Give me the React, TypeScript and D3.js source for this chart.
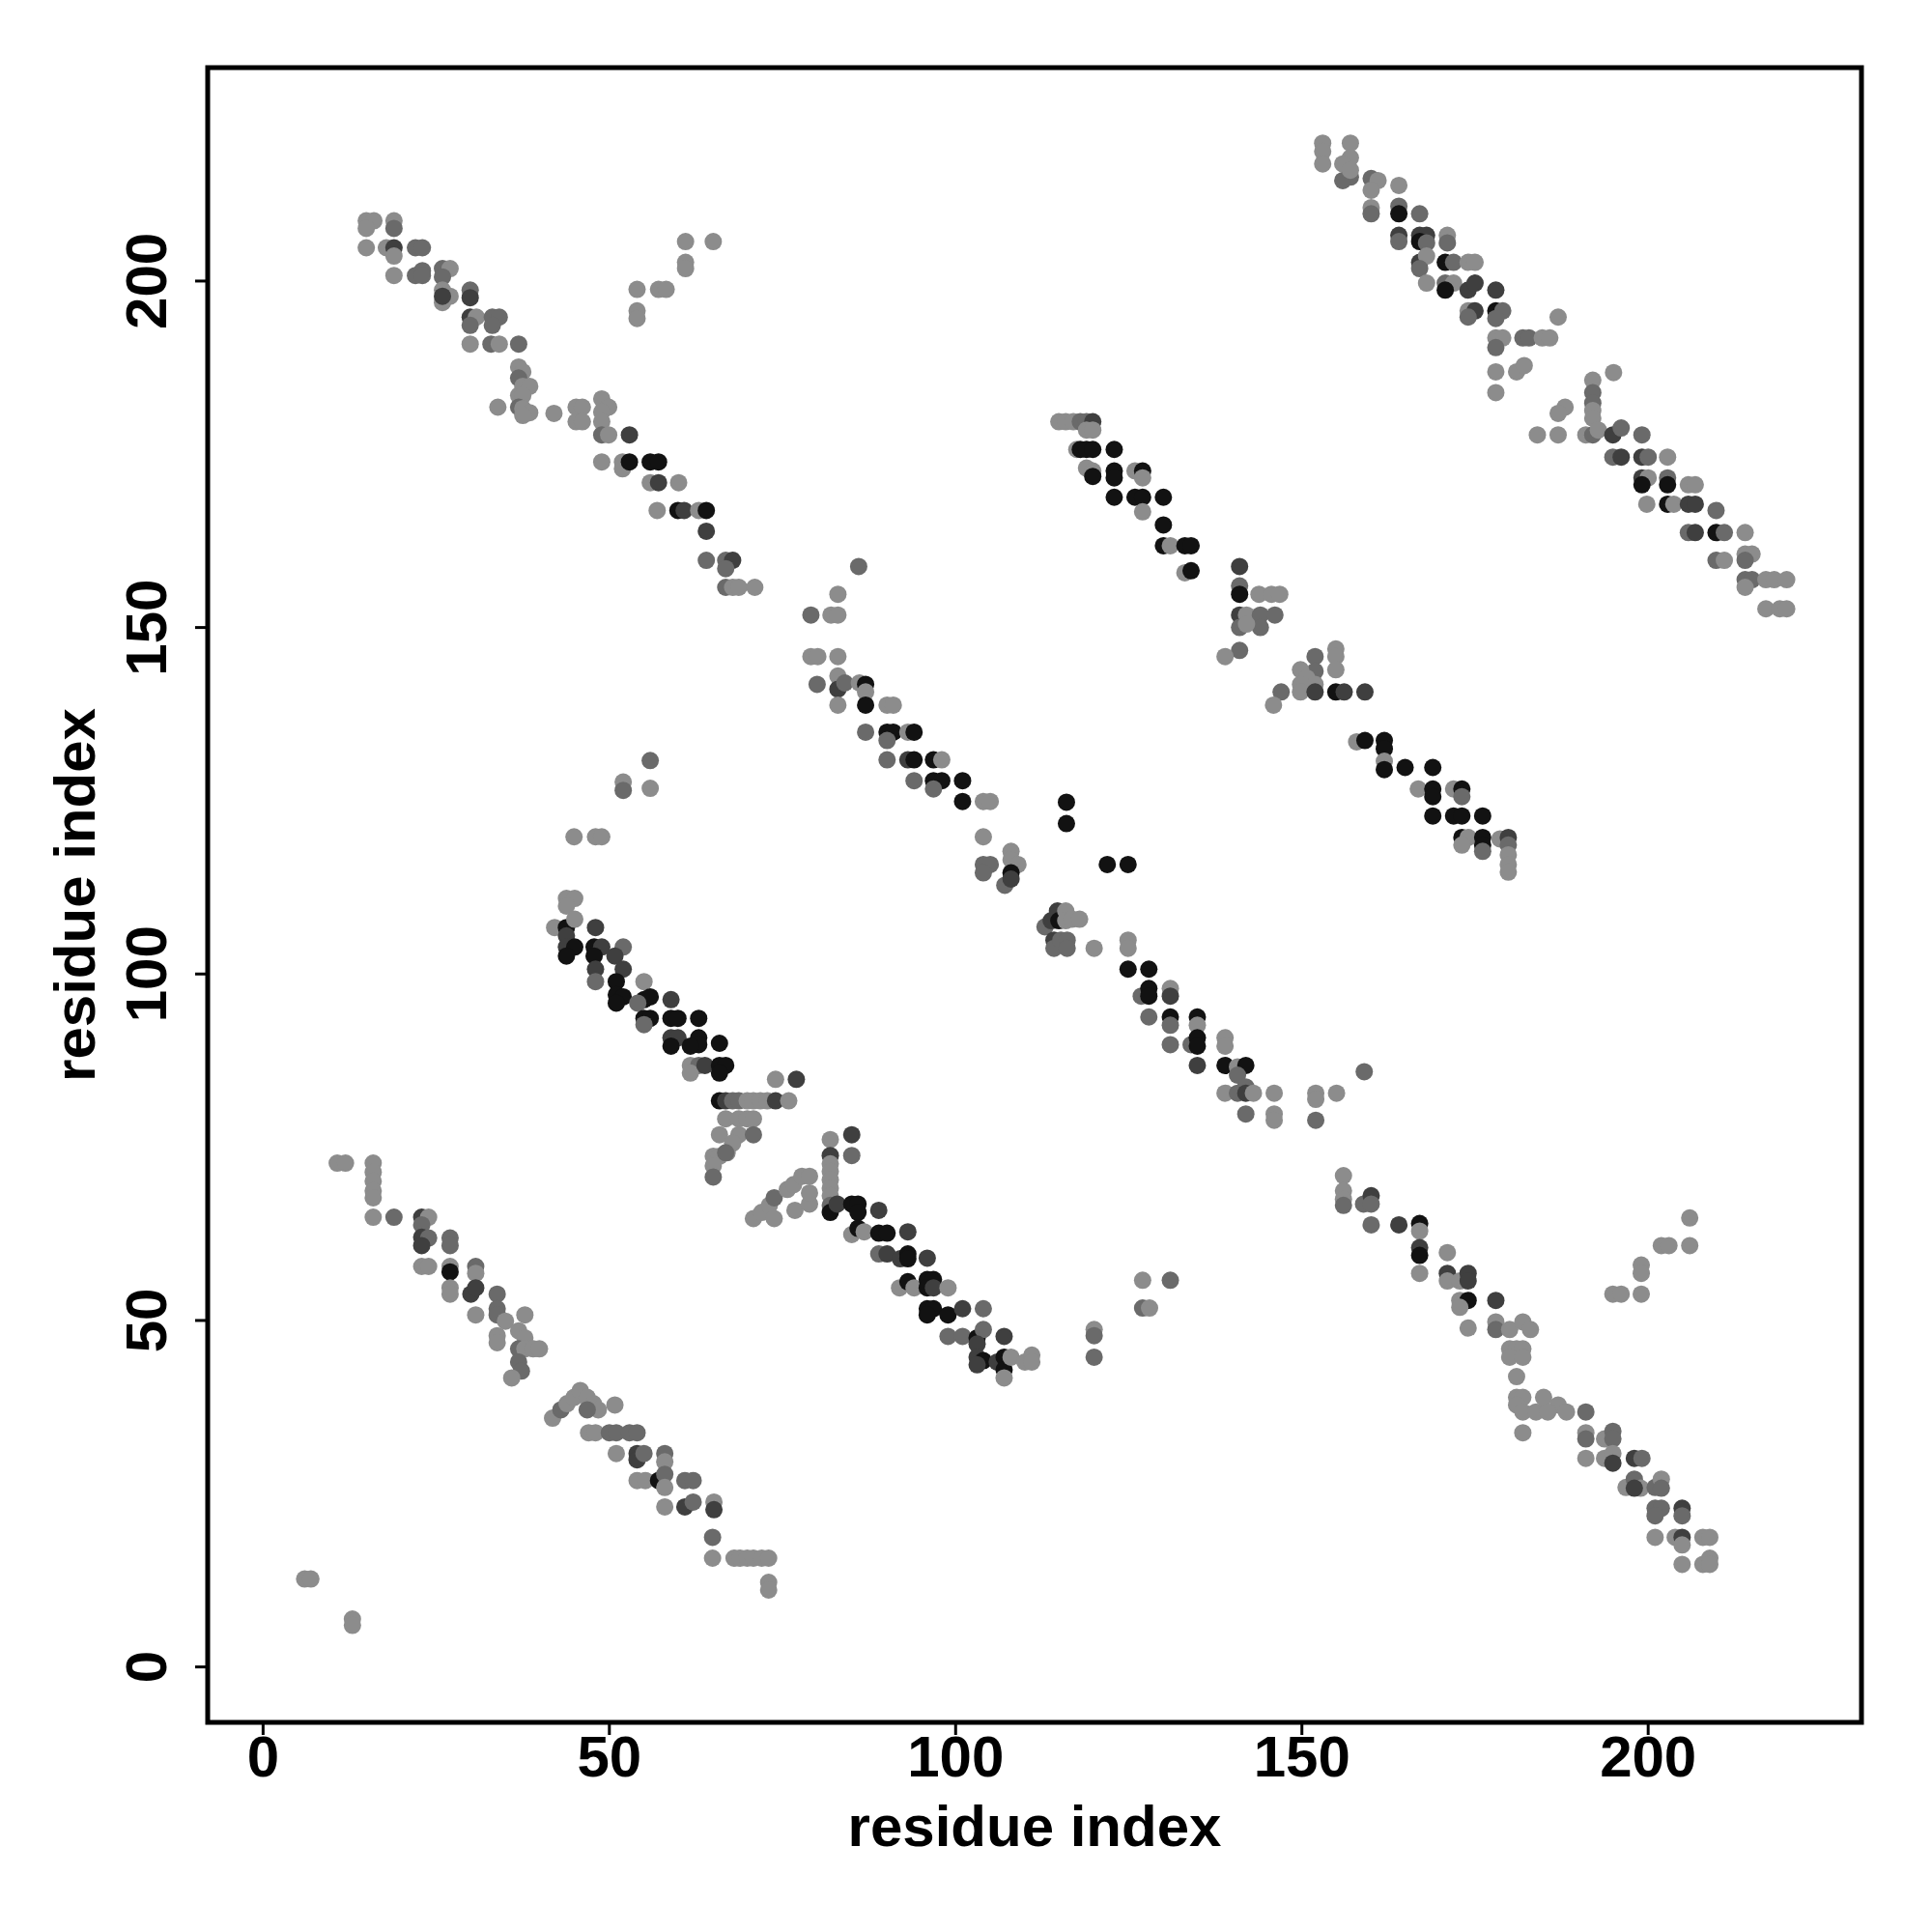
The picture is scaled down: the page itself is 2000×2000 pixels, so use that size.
import React from "react";
import * as d3 from "d3";

type Pt = [number, number, number];

// contact clusters: [residue i, residue j, shade level 0..3]
const bandA: Pt[] = [
  [14.9,208.7,0],[16,208.7,0],[14.9,207.6,0],[18.9,208.7,0],[18.9,207.6,1],
  [14.9,204.8,0],[17.8,204.8,0],[18.9,204.8,2],[18.9,203.6,0],[22,204.8,1],[23,204.8,1],
  [18.9,200.8,0],[22,200.8,1],[23,201.5,1],[23,200.8,1],[25.9,201.8,1],[27,201.8,0],[25.9,200.6,1],
  [25.9,198.7,0],[27,197.8,0],[25.9,196.9,0],[25.9,197.8,2],[29.9,198.7,1],[29.9,197.6,2],
  [29.9,194.8,2],[30.8,194.8,0],[33.1,194.8,1],[34.1,194.8,1],[29.9,193.6,1],[33.1,193.6,1],
  [29.9,190.9,0],[32.9,190.9,1],[34.1,190.9,0],[36.9,190.9,1],
  [36.9,187.6,0],[37.5,186.9,0],[36.9,186,1],[37.5,184.8,0],[38.5,184.8,0],[36.9,183.5,0],[37.5,183.5,0],
  [36.9,181.8,1],[37.5,181.6,0],[38.5,181,0],[37.5,180.6,0],
  [33.9,181.8,0],[42,180.9,0],[45.2,181.8,0],[46.1,181.8,0],[45.2,179.7,0],[46.1,179.7,0],
  [48.9,183,0],[49.9,181.8,0],[48.9,181.1,0],[48.9,179.7,0],[48.9,177.8,1],[49.9,177.8,0],[52.9,177.8,2],
  [48.9,173.9,0],[51.9,173.9,0],[51.9,172.9,0],[52.9,173.9,3],[55.9,173.9,3],[57.1,173.9,3],[55.9,170.9,0],[57.1,170.9,2],[60,170.9,0],
  [56.9,166.9,0],[59.9,166.9,3],[60.8,166.9,2],[62.9,166.9,0],[64,166.9,3],[64,163.9,2],
  [64,159.7,1],[66.8,159.7,1],[67.8,159.7,2],[66.8,158.5,1],
  [66.8,155.8,1],[67.8,155.8,0],[68.7,155.8,0],[71,155.8,0],
];

const clusterA2: Pt[] = [
  [61,205.7,0],[65,205.7,0],[61,202.7,0],[61,201.8,0],[54,198.8,0],[57.1,198.8,0],[58.2,198.8,0],[54,195.7,0],[54,194.6,0],
];

const bandB: Pt[] = [
  [153,219.9,0],[153,218.7,0],[153,216.9,0],[157,219.9,0],[157,217.8,0],[155.9,216.9,0],[157,215,1],[155.9,214.5,1],[157,216,0],
  [160,214.8,1],[161,214.5,0],[160,213.1,0],[160,210.6,0],[160,209.7,1],[164,213.8,0],
  [164,210.8,1],[164,209.7,3],[167,209.7,1],[164,206.6,2],[164,205.7,1],
  [167,206.6,2],[168,206.6,2],[167,205.7,3],[168,205.5,1],[171,206.6,0],[171,205.5,1],
  [167,202.7,2],[168,203.6,0],[167,201.8,1],[168,199.7,0],
  [170.7,202.7,3],[171.9,202.7,1],[170.7,199.7,1],[171.9,199.7,0],[170.7,198.7,3],
  [174,202.7,0],[175,202.7,0],[174,198.7,2],[175,199.7,2],[174,195.7,0],[175,195.7,2],[174,194.8,1],
  [178,198.7,2],[178,195.7,3],[179,195.7,1],[178,194.6,1],
  [178,191.8,0],[179,191.8,0],[178,190.4,1],
  [181.9,191.8,1],[182.8,191.8,1],[184.7,191.8,0],[185.8,191.8,0],[187,194.8,0],
  [178,186.9,0],[178,183.9,0],[181,186.9,0],[182.1,187.8,0],
  [195,186.8,0],[192,185.7,0],[192,183.9,1],[192,182.4,1],[192,181.3,0],[192,180.2,0],
  [188,181.8,0],[187,180.9,0],
  [184,177.8,0],[187,177.8,0],[191,177.8,0],[192,177.8,1],[192.8,178.5,0],
  [194.9,177.8,2],[196.1,178.8,1],[199.1,177.8,1],
  [194.9,174.6,1],[196.1,174.6,2],[199.1,174.6,2],[200,174.6,1],[199.1,171.6,2],[200,171.6,0],[202.8,174.6,0],[202.8,171.6,1],
  [199.1,170.6,3],[202.8,170.6,3],[205.8,170.6,0],[206.8,170.6,0],
  [199.8,167.8,0],[202.8,167.8,3],[203.7,167.8,0],[205.8,167.8,2],[206.8,167.8,2],[209.8,166.9,1],
  [205.8,163.7,1],[206.8,163.7,2],[209.8,163.7,3],[211,163.7,1],[214,163.7,0],
  [209.8,159.7,1],[211,159.7,0],[214,160.6,0],[215,160.6,0],[214,159.7,1],
  [214,156.9,1],[215,156.9,1],[217,156.9,0],[218.2,156.9,0],[220,156.9,0],[214,155.8,0],
  [217,152.7,0],[219,152.7,0],[220,152.7,0],
];

const bandC: Pt[] = [
  [114.9,179.7,0],[115.9,179.7,0],[117,179.7,0],[118,179.7,1],[118.9,179.7,1],[119.8,179.7,2],[118.9,178.5,0],[119.8,178.5,0],
  [117.5,175.7,0],[118,175.7,3],[118.9,175.7,3],[119.8,175.7,3],[122.9,175.7,3],
  [118.9,173,0],[119.8,172.6,0],[119.8,171.8,3],[122.9,172.6,3],[122.9,171.6,3],[125.9,172.6,0],[127,172.6,3],[127,171.6,0],
  [122.9,168.8,3],[125.9,168.8,3],[127,168.8,3],[130,168.8,3],[127,166.7,0],
  [130,164.8,3],
  [130,161.8,3],[131,161.8,0],[133.1,161.8,3],[134,161.8,3],[133.1,157.9,0],[134,158.2,3],
  [141,158.8,2],[141,156,1],[141,154.8,3],
  [143.8,154.8,0],[145.6,154.8,0],[146.8,154.8,0],
  [141,151.8,2],[142,151.8,0],[144,151.8,1],[146.1,151.8,1],[141,150,1],[144,150,1],[142,150.5,0],
  [141,146.7,1],[138.9,145.8,0],
  [154.9,146.9,0],[154.9,145.8,0],[154.9,143.9,0],
  [151.9,145.8,1],[151.9,143.7,1],[149.8,143.9,0],[150.7,142.7,0],[149.8,141.8,0],[151.9,141.8,0],
  [147,140.7,1],[145.9,138.8,0],[149.8,140.7,0],[151.9,140.7,2],[154.9,140.7,3],[156.1,140.7,2],[159.1,140.7,2],
  [157.9,133.5,0],[159.1,133.7,3],[161.9,133.7,3],[161.9,132.5,3],[161.9,130.7,0],[161.9,129.5,3],
  [164.9,129.8,3],[168.9,129.8,3],
  [166.8,126.7,0],[168.9,126.7,3],[168.9,125.6,3],[171.9,126.7,0],[173.1,126.7,3],[173.1,125.6,1],
  [168.9,122.8,3],[171.9,122.8,3],[173.1,122.8,3],[176.1,122.8,3],
  [173.1,119.7,3],[174,119.7,0],[173.1,118.6,0],[176.1,119.7,3],[176.1,118.6,3],[176.1,117.7,1],
  [178.6,119.5,0],[179.8,119.7,2],[179.8,118.6,1],[179.8,117.2,0],[179.8,115.8,0],[179.8,114.7,0],
];

const isolatedDark: Pt[] = [
  [116,124.8,3],[116,121.7,3],[121.9,115.8,3],[124.9,115.8,3],
];

const bandD: Pt[] = [
  [86,158.8,1],[83,154.8,0],[79.1,151.8,1],[82,151.8,0],[83,151.8,0],
  [79.1,145.8,0],[80.1,145.8,0],[83,145.8,0],[80,141.8,1],
  [83,143,0],[83,141.1,2],[84,142,1],[83,138.8,0],
  [86.1,142,0],[87,141.8,3],[87,140.7,0],[87,138.8,3],[90.1,138.8,0],[91,138.8,0],
  [87,134.9,1],[90.1,134.9,3],[91,134.9,3],[90.1,133.7,1],[93.1,134.9,0],[94,134.9,3],
  [90.1,130.9,1],[93.1,130.9,2],[94,130.9,3],[96.8,130.9,3],[98,130.9,0],
  [94,127.9,1],[96.8,127.9,3],[98,127.9,3],[96.8,126.7,1],[101,127.9,3],
  [101,124.9,3],[104,124.9,0],[105,124.9,0],
  [104,119.8,0],
  [104,115.8,1],[105,115.8,1],[104,114.6,1],[108,117.7,0],[108,116.5,0],[109,115.8,0],[108,114.6,3],[107.1,112.8,1],[108,113.7,2],
];

const bandE: Pt[] = [
  [55.9,130.8,1],[52,127.7,0],[52,126.5,1],[55.9,126.8,0],
  [44.9,119.8,0],[48,119.8,0],[48.9,119.8,0],
  [43.8,110.9,0],[45,110.9,0],[43.8,109.8,0],
  [42.1,106.7,0],[43.8,106.7,3],[45,107.9,0],[43.8,105.5,2],[48,106.7,2],
  [43.8,103.9,2],[45,103.9,3],[43.8,102.6,3],[47.8,103.9,3],[48.9,103.9,2],[52,103.9,1],[47.8,102.6,3],[50.8,102.6,2],
  [52,100.7,2],[48,100.7,2],[48,98.9,1],
  [51,98.9,3],[51,97,3],[52,96.7,3],[51,95.8,3],[55,98.9,0],
  [55,96.3,3],[55.9,96.7,3],[58.9,96.3,2],[54.1,95.8,1],[55,93.6,3],[55.9,93.6,3],[58.9,93.6,3],[59.9,93.6,3],[55,92.7,1],[62.9,93.6,3],
  [58.9,90.8,2],[59.9,90.8,2],[62.9,90.8,3],[62.9,89.8,3],[65.9,90,3],[58.9,89.6,3],[61.7,89.6,3],
  [61.7,86.8,0],[62.9,86.8,1],[61.7,85.7,0],[63.8,86.8,2],[65.9,86.8,3],[66.8,86.8,3],[65.9,85.7,3],
  [65.9,81.7,3],[66.8,81.7,2],[67.8,81.7,1],[68.7,81.7,1],[69.9,81.7,0],[70.8,81.7,0],[71.8,81.7,0],[72.8,81.7,0],[74,81.7,2],[75.9,81.7,0],
  [74,84.8,0],[77,84.8,2],
  [66.8,79.1,0],[68.7,79.1,0],[69.9,79.1,0],[70.8,79.1,0],[65.9,76.8,0],[68.7,76.8,0],[70.8,76.8,1],[67.8,75.6,0],
  [67,74.2,0],[65,73.7,0],[65.9,73.7,0],[66.8,74.2,1],[65,72.3,0],[65,70.7,1],
];

const bandF: Pt[] = [
  [81.9,76.1,0],[81.9,73.8,2],[81.9,72.6,0],[81.9,71.5,0],[81.9,70.3,0],[81.9,69.1,0],[81.9,68,0],[81.9,66.6,1],[81.9,65.6,3],
  [85,76.8,2],[85,73.8,1],
  [70.8,64.7,0],[72,65.6,0],[73.1,66.6,0],[73.8,67.7,1],[73.8,64.7,0],[75.7,68.9,0],[76.6,69.6,0],[77.8,70.8,0],[78.9,70.8,0],[76.8,65.9,0],[78.9,66.8,0],[78.9,68.4,0],
  [82.9,66.8,2],[85,66.8,3],[85.9,66.8,3],[85.9,65.6,3],[88.9,65.9,2],[85,62.4,0],[85.9,63.3,3],[86.8,62.8,0],
  [88.9,62.6,3],[90.1,62.6,3],[93.1,62.8,2],[88.9,59.6,1],[90.1,59.6,2],[92,58.9,2],[93.1,59.6,3],[93.1,58.9,3],[95.9,59,2],
  [91.9,54.7,0],[93.1,55.6,3],[94,54.7,0],[95.9,55.9,3],[96.8,55.9,3],[95.9,54.7,3],[96.8,54.7,2],[98.9,54.7,0],
  [95.9,51.7,3],[96.8,51.7,3],[95.9,50.8,3],[98.9,50.8,3],[101,51.7,2],[104,51.7,1],
  [98.9,47.7,1],[101,47.7,1],[103.1,47.5,3],[104,48.7,1],[107,47.7,2],[103.1,46.6,2],
  [103.1,44.7,2],[104,44.2,3],[103.1,43.6,2],[106,44,2],[107,44.7,3],[107,42.9,3],[107,41.7,0],[108,44.7,0],[110,44,0],[111,45,0],[111,44,0],
];

const bandG: Pt[] = [
  [112.9,106.8,1],[113.8,107.7,2],[114.7,109.1,2],[114.9,107.7,3],[115.9,109.1,0],[115.9,107.7,0],[116.8,107.9,0],[117.9,107.9,0],
  [114.2,104.9,2],[114.2,103.7,1],[115.2,104.9,1],[116.1,104.9,1],[116.1,103.7,1],
  [120,103.7,0],[124.9,104.9,0],[124.9,103.7,0],
  [124.9,100.7,3],[127.9,100.7,3],
  [126.8,96.8,1],[127.9,97.9,3],[127.9,96.8,3],[131,97.9,0],[131,96.8,2],
  [127.9,93.8,1],[131,93.8,3],[131,92.6,1],[134.9,93.8,3],[134.9,92.6,0],
  [131,89.8,1],[134,89.8,1],[134.9,90.8,3],[134.9,89.6,3],[138.9,90.8,0],[138.9,89.6,0],
  [134.9,86.8,2],[138.9,86.8,3],[140.7,86.6,0],[141.9,86.8,3],[140.7,85.4,1],
  [138.9,82.8,0],[140.7,82.8,1],[141.9,83.7,1],[141.9,82.8,2],[143,82.8,0],[141.9,79.8,1],
  [146,82.8,0],[146,79.8,0],[146,78.9,0],
  [152,82.8,0],[152,81.9,0],[152,78.9,1],[155,82.8,0],[159,85.9,1],
];

const clusterG2: Pt[] = [
  [127,55.8,0],[131,55.8,1],[127,51.8,1],[128,51.8,0],[120,48.7,0],[120,47.8,1],[120,44.7,1],
];

const bandH: Pt[] = [
  [156,70.9,0],[156,68.7,0],[156,67.5,0],[156,66.6,1],
  [158.9,66.8,1],[160,68,2],[160,66.8,1],[160,63.8,1],
  [164,63.8,2],[167,64,3],[167,62.9,0],[167,60.5,2],[167,59.4,3],[171,59.8,0],[167,56.8,0],
  [171,56.8,2],[171,55.7,0],[172.8,55.7,0],[174,56.8,2],[174,55.7,2],
  [172.8,52.9,0],[174,52.9,3],[172.8,51.9,0],[178,52.9,2],[174,48.9,0],
  [178,49.8,0],[178,48.7,1],[180,48.7,0],[181.9,49.8,0],[183,48.7,0],
  [180,45.9,0],[181,45.9,0],[181.9,45.9,0],[180,44.7,0],[181.9,44.7,0],[181,41.9,0],
  [181,38.9,0],[181.9,38.9,0],[184.9,38.9,0],[181,37.8,0],[187,37.8,0],[188.2,36.8,0],[181.9,36.8,0],[183.8,36.8,0],[185.5,36.8,0],
  [191,36.8,1],[181.9,33.8,0],
  [191,33.8,0],[191,32.9,1],[193.7,32.9,0],[194.9,34,1],[194.9,32.9,1],
  [191,30.1,0],[193.7,30.1,0],[194.9,30.8,0],[194.9,29.4,2],[198,30.1,2],[199.1,30.1,1],
  [196.8,25.9,0],[198,27.1,1],[198.9,25.8,0],[198,25.8,2],[201,25.9,1],[201.9,27.1,0],[201.9,25.8,1],
  [201,22.9,1],[201.9,22.9,1],[201,21.8,1],[204.9,22.9,2],[204.9,21.8,1],
  [201,18.7,0],[203.9,18.7,0],[204.9,18.7,2],[204.9,17.6,0],[207.9,18.7,0],[208.9,18.7,0],
  [204.9,14.8,0],[207.9,14.8,0],[208.9,15.7,0],[208.9,14.8,0],
];

const clusterH2: Pt[] = [
  [206,64.8,0],[201.9,60.8,0],[203,60.8,0],[206,60.8,0],[199,58,0],[199,56.8,0],[194.9,53.8,0],[196.1,53.8,0],[199,53.8,0],
];

const bandI: Pt[] = [
  [10.7,72.7,0],[11.9,72.7,0],[15.9,72.7,0],[15.9,71.4,0],[15.9,70.1,0],[15.9,68.7,0],[15.9,67.7,0],
  [15.9,64.9,0],[18.9,64.9,1],
  [22.9,64.9,2],[23.9,64.9,0],[22.9,63.8,1],
  [22.9,62,2],[23.9,61.9,1],[22.9,60.8,2],[27,61.9,1],[27,60.8,1],
  [22.9,57.8,0],[23.9,57.8,0],[27,57.8,0],[27,57,3],[30.7,57.8,1],[30.7,56.8,0],
  [27,54.7,0],[27,53.8,0],[30,53.8,2],[30.7,54.7,2],
  [30.7,50.8,0],[33.8,53.8,1],[33.8,51.7,1],
  [33.8,50.8,1],[33.8,47.8,0],[33.8,46.8,0],[35,49.9,0],[37.8,50.8,0],[36.9,48.5,0],[37.8,47.5,0],
  [36.9,45.9,1],[37.8,45.9,0],[39,45.9,0],[39.9,45.9,0],[36.9,44,1],[37.3,42.7,1],
  [35.9,41.7,0],
  [41.8,35.9,0],[43,37.1,1],[43.9,38,0],[44.9,38.9,0],[45.8,39.9,0],[46.8,38.9,0],[47.7,38,0],[48.4,37.1,0],[46.8,37.1,1],
  [50.8,37.8,0],
  [47,33.8,0],[48,33.8,0],[50,33.8,1],[51,33.8,1],[52.9,33.8,1],[54,33.8,1],
  [51,30.8,0],[54,30.8,2],[54,29.9,2],[55,30.8,1],[58,30.8,1],[58,29.6,0],
  [54,26.9,0],[55.2,26.9,0],[57.1,26.9,3],[58,27.8,1],[58,25.9,0],[60.9,26.9,1],[62.1,26.9,1],
  [58,23.1,0],[60.9,23.1,2],[62.1,23.8,1],[65.1,23.8,0],[65.1,22.7,2],
  [64.9,18.7,1],
  [64.9,15.7,0],[68,15.7,0],[68.9,15.7,0],[69.9,15.7,0],[70.8,15.7,0],[72,15.7,0],[73,15.7,0],
  [73,12.2,0],[73,11.1,0],
  [6,12.7,0],[6.9,12.7,0],[12.9,6.9,0],[12.9,6,0],
];

const ticks = [0, 50, 100, 150, 200];
const shades = ["#8c8c8c", "#6a6a6a", "#3f3f3f", "#121212"];
const axisTitle = "residue index";

const allPoints: Pt[] = [
  ...bandA, ...clusterA2, ...bandB, ...bandC, ...isolatedDark, ...bandD,
  ...bandE, ...bandF, ...bandG, ...clusterG2, ...bandH, ...clusterH2, ...bandI,
];

export default function App() {
  const W = 2000, H = 2000;
  const left = 215, right = 1927, top = 70, bottom = 1783;
  const x = d3.scaleLinear().domain([-8, 230.8]).range([left, right]);
  const y = d3.scaleLinear().domain([-8, 230.8]).range([bottom, top]);
  const font = "'Liberation Sans', Arial, Helvetica, sans-serif";

  return (
    <svg width={W} height={H} style={{ position: "absolute", left: 0, top: 0, background: "#fff" }}>
      <rect x={0} y={0} width={W} height={H} fill="#fff" />
      <g>
        {allPoints.map((p, i) => (
          <circle key={i} cx={x(p[0])} cy={y(p[1])} r={9} fill={shades[p[2]]} />
        ))}
      </g>
      <rect x={left} y={top} width={right - left} height={bottom - top} fill="none" stroke="#000" strokeWidth={5} />
      {ticks.map((t) => (
        <g key={"x" + t}>
          <line x1={x(t)} x2={x(t)} y1={bottom} y2={bottom + 13} stroke="#000" strokeWidth={3} />
          <text x={x(t)} y={1839} textAnchor="middle" fontFamily={font} fontWeight="bold" fontSize={60}>{t}</text>
        </g>
      ))}
      {ticks.map((t) => (
        <g key={"y" + t}>
          <line x1={left} x2={left - 13} y1={y(t)} y2={y(t)} stroke="#000" strokeWidth={3} />
          <text transform={`translate(172,${y(t)}) rotate(-90)`} textAnchor="middle" fontFamily={font} fontWeight="bold" fontSize={60}>{t}</text>
        </g>
      ))}
      <text x={(left + right) / 2} y={1911} textAnchor="middle" fontFamily={font} fontWeight="bold" fontSize={60}>{axisTitle}</text>
      <text transform={`translate(98,${(top + bottom) / 2}) rotate(-90)`} textAnchor="middle" fontFamily={font} fontWeight="bold" fontSize={60}>{axisTitle}</text>
    </svg>
  );
}
